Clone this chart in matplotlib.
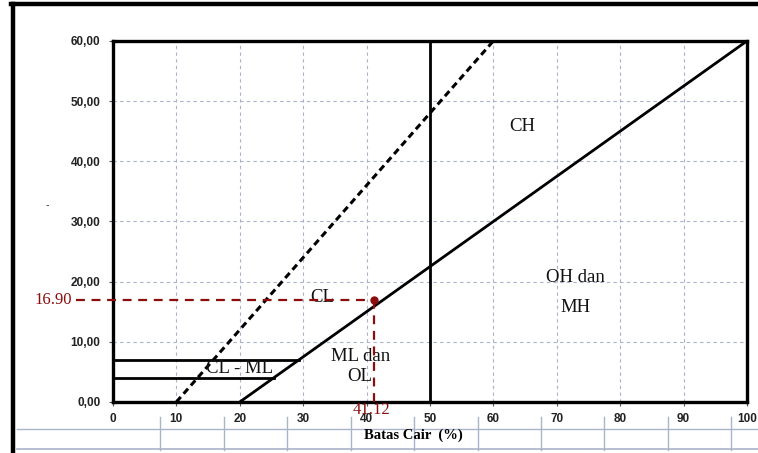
import numpy as np
import matplotlib
matplotlib.use("Agg")
import matplotlib.pyplot as plt
from matplotlib.lines import Line2D
import matplotlib.transforms as mtransforms

# Plasticity chart data
x_ticks = [0, 10, 20, 30, 40, 50, 60, 70, 80, 90, 100]
y_ticks = [0, 10, 20, 30, 40, 50, 60]
y_tick_labels = ["0,00", "10,00", "20,00", "30,00", "40,00", "50,00", "60,00"]

a_line_x = [20, 100]
a_line_y = [0, 60]
u_line_x = [10, 60]
u_line_y = [0, 60]
ll_split_x = [50, 50]
ll_split_y = [0, 60]
clml_top_x = [0, 29.33]
clml_top_y = [7, 7]
clml_bot_x = [0, 25.33]
clml_bot_y = [4, 4]

ll_sample = 41.12
pi_sample = 16.90

zone_names = ["CH", "OH dan\nMH", "CL", "ML dan\nOL", "CL - ML"]
zone_x = [64.5, 73.0, 33.0, 39.0, 20.0]
zone_y = [45.7, 18.2, 17.3, 5.9, 5.6]
zone_spacing = [1.3, 1.95, 1.3, 1.3, 1.3]

table_cols = [7.5, 17.5, 27.5, 37.5, 47.5, 57.5, 67.5, 77.5, 87.5, 97.5]

grid_col = "#a9b3c9"
red = "#8b0d0d"

fig = plt.figure(figsize=(7.58, 4.53), dpi=100)
ax = fig.add_axes([0.149, 0.1126, 0.8365, 0.797])

ax.set_xlim(0, 100)
ax.set_ylim(0, 60)
ax.set_xticks(x_ticks)
ax.set_yticks(y_ticks)
ax.set_yticklabels(y_tick_labels)
for lab in ax.get_xticklabels() + ax.get_yticklabels():
    lab.set_fontfamily("Liberation Sans")
    lab.set_fontweight("bold")
    lab.set_fontsize(8.5)
    lab.set_color("#222222")
ax.tick_params(length=3, width=0.8, color="#555555")
ax.tick_params(axis="x", pad=5)
ax.tick_params(axis="y", pad=6)
ax.grid(True, color=grid_col, linestyle=(0, (3, 3)), linewidth=0.8)
ax.set_axisbelow(True)
for s in ax.spines.values():
    s.set_linewidth(2.4)
    s.set_color("black")

# chart lines
ax.plot(a_line_x, a_line_y, color="black", lw=2.0, solid_capstyle="butt")
ax.plot(u_line_x, u_line_y, color="black", lw=2.2, linestyle=(0, (2.2, 1.4)))
ax.plot(ll_split_x, ll_split_y, color="black", lw=2.0)
ax.plot(clml_top_x, clml_top_y, color="black", lw=2.0)
ax.plot(clml_bot_x, clml_bot_y, color="black", lw=2.0)

# sample point
ax.plot([-5.8, ll_sample], [pi_sample, pi_sample], color=red, lw=1.6,
        linestyle=(0, (4, 3)), clip_on=False, zorder=4)
ax.plot([ll_sample, ll_sample], [0, pi_sample], color=red, lw=1.6,
        linestyle=(0, (4, 3)), zorder=4)
ax.plot([ll_sample], [pi_sample], "o", color=red, ms=5, zorder=5)
ax.text(-6.4, pi_sample, f"{pi_sample:.2f}", color=red, fontsize=12,
        family="Liberation Serif", ha="right", va="center", clip_on=False)
ax.text(ll_sample - 0.4, -1.3, f"{ll_sample:.2f}", color=red, fontsize=12,
        family="Liberation Serif", ha="center", va="center", clip_on=False)

for name, zx, zy, sp in zip(zone_names, zone_x, zone_y, zone_spacing):
    ax.text(zx, zy, name, fontsize=13.5, family="Liberation Serif",
            ha="center", va="center", linespacing=sp, color="#111111")

# excel-like data table below the chart
trans = mtransforms.blended_transform_factory(ax.transData, fig.transFigure)
for cx in table_cols:
    ax.add_line(Line2D([cx, cx], [0.0795, 0.006], transform=trans,
                       color=grid_col, lw=1.0, clip_on=False))
fig.add_artist(Line2D([0.022, 1.0], [0.053, 0.053], color=grid_col, lw=1.0))
fig.add_artist(Line2D([0.022, 1.0], [0.009, 0.009], color=grid_col, lw=1.2))
fig.text(0.545, 0.040, "Batas Cair  (%)", fontsize=10.5, fontweight="bold",
         family="Liberation Serif", ha="center", va="center")

# outer frame
fig.add_artist(Line2D([0.0165, 0.0165], [0.991, 0.0], color="black", lw=3.2))
fig.add_artist(Line2D([0.0145, 1.0], [0.991, 0.991], color="black", lw=3.2))
fig.text(0.063, 0.548, "-", fontsize=7, color="#333333", ha="center", va="center")

fig.savefig("out.png", dpi=100)
